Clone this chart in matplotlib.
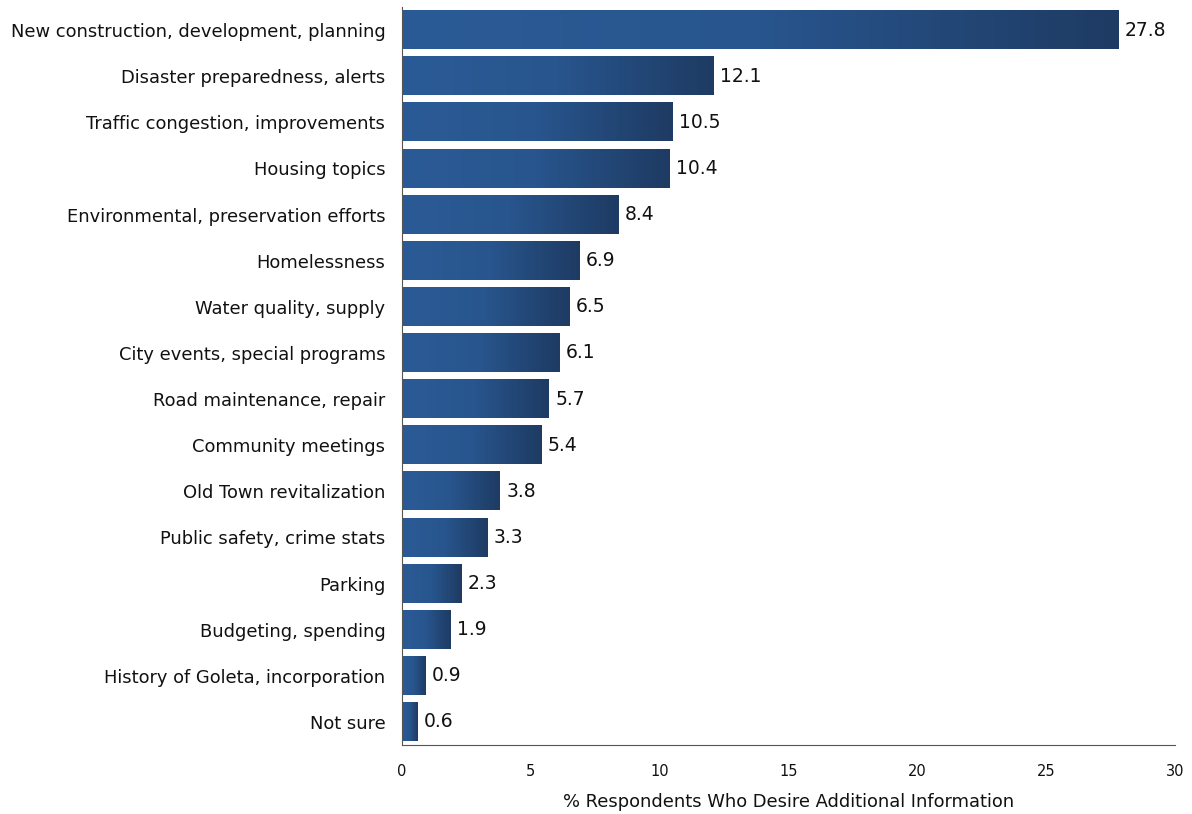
import matplotlib
matplotlib.use('Agg')
import matplotlib.pyplot as plt
import numpy as np
from matplotlib.colors import LinearSegmentedColormap

categories = ['New construction, development, planning', 'Disaster preparedness, alerts',
              'Traffic congestion, improvements', 'Housing topics',
              'Environmental, preservation efforts', 'Homelessness', 'Water quality, supply',
              'City events, special programs', 'Road maintenance, repair', 'Community meetings',
              'Old Town revitalization', 'Public safety, crime stats', 'Parking',
              'Budgeting, spending', 'History of Goleta, incorporation', 'Not sure']
values = [27.8, 12.1, 10.5, 10.4, 8.4, 6.9, 6.5, 6.1, 5.7, 5.4, 3.8, 3.3, 2.3, 1.9, 0.9, 0.6]
xticks = [0, 5, 10, 15, 20, 25, 30]

cmap = LinearSegmentedColormap.from_list('bar', ['#2b5b96', '#28558d', '#1e3b63'])
grad = np.linspace(0, 1, 256).reshape(1, -1)

fig = plt.figure(figsize=(11.92, 8.14), dpi=100)
ax = fig.add_axes([0.3372, 0.0848, 0.6485, 0.9066])

y = np.arange(len(categories))
h = 0.83
bars = ax.barh(y, values, height=h, color='none')
for yi, v in zip(y, values):
    ax.imshow(grad, cmap=cmap, aspect='auto', extent=[0, v, yi + h / 2, yi - h / 2], zorder=2)
    ax.text(v + 0.25, yi, f'{v:.1f}', va='center', ha='left', fontsize=13.5, color='#111111')

ax.set_xlim(0, 30)
ax.set_ylim(len(categories) - 0.5, -0.5)
ax.set_yticks(y)
ax.set_yticklabels(categories, fontsize=12.9, color='#111111')
ax.set_xticks(xticks)
ax.set_xticklabels([str(t) for t in xticks], fontsize=10.5, color='#111111')
ax.tick_params(axis='both', length=0)
ax.tick_params(axis='y', pad=12)
ax.tick_params(axis='x', pad=14)
ax.set_xlabel('% Respondents Who Desire Additional Information', fontsize=12.9, labelpad=10, color='#111111')
for s in ['top', 'right']:
    ax.spines[s].set_visible(False)
ax.spines['left'].set_color('#555555')
ax.spines['bottom'].set_color('#555555')

plt.savefig('out.png', dpi=100)
